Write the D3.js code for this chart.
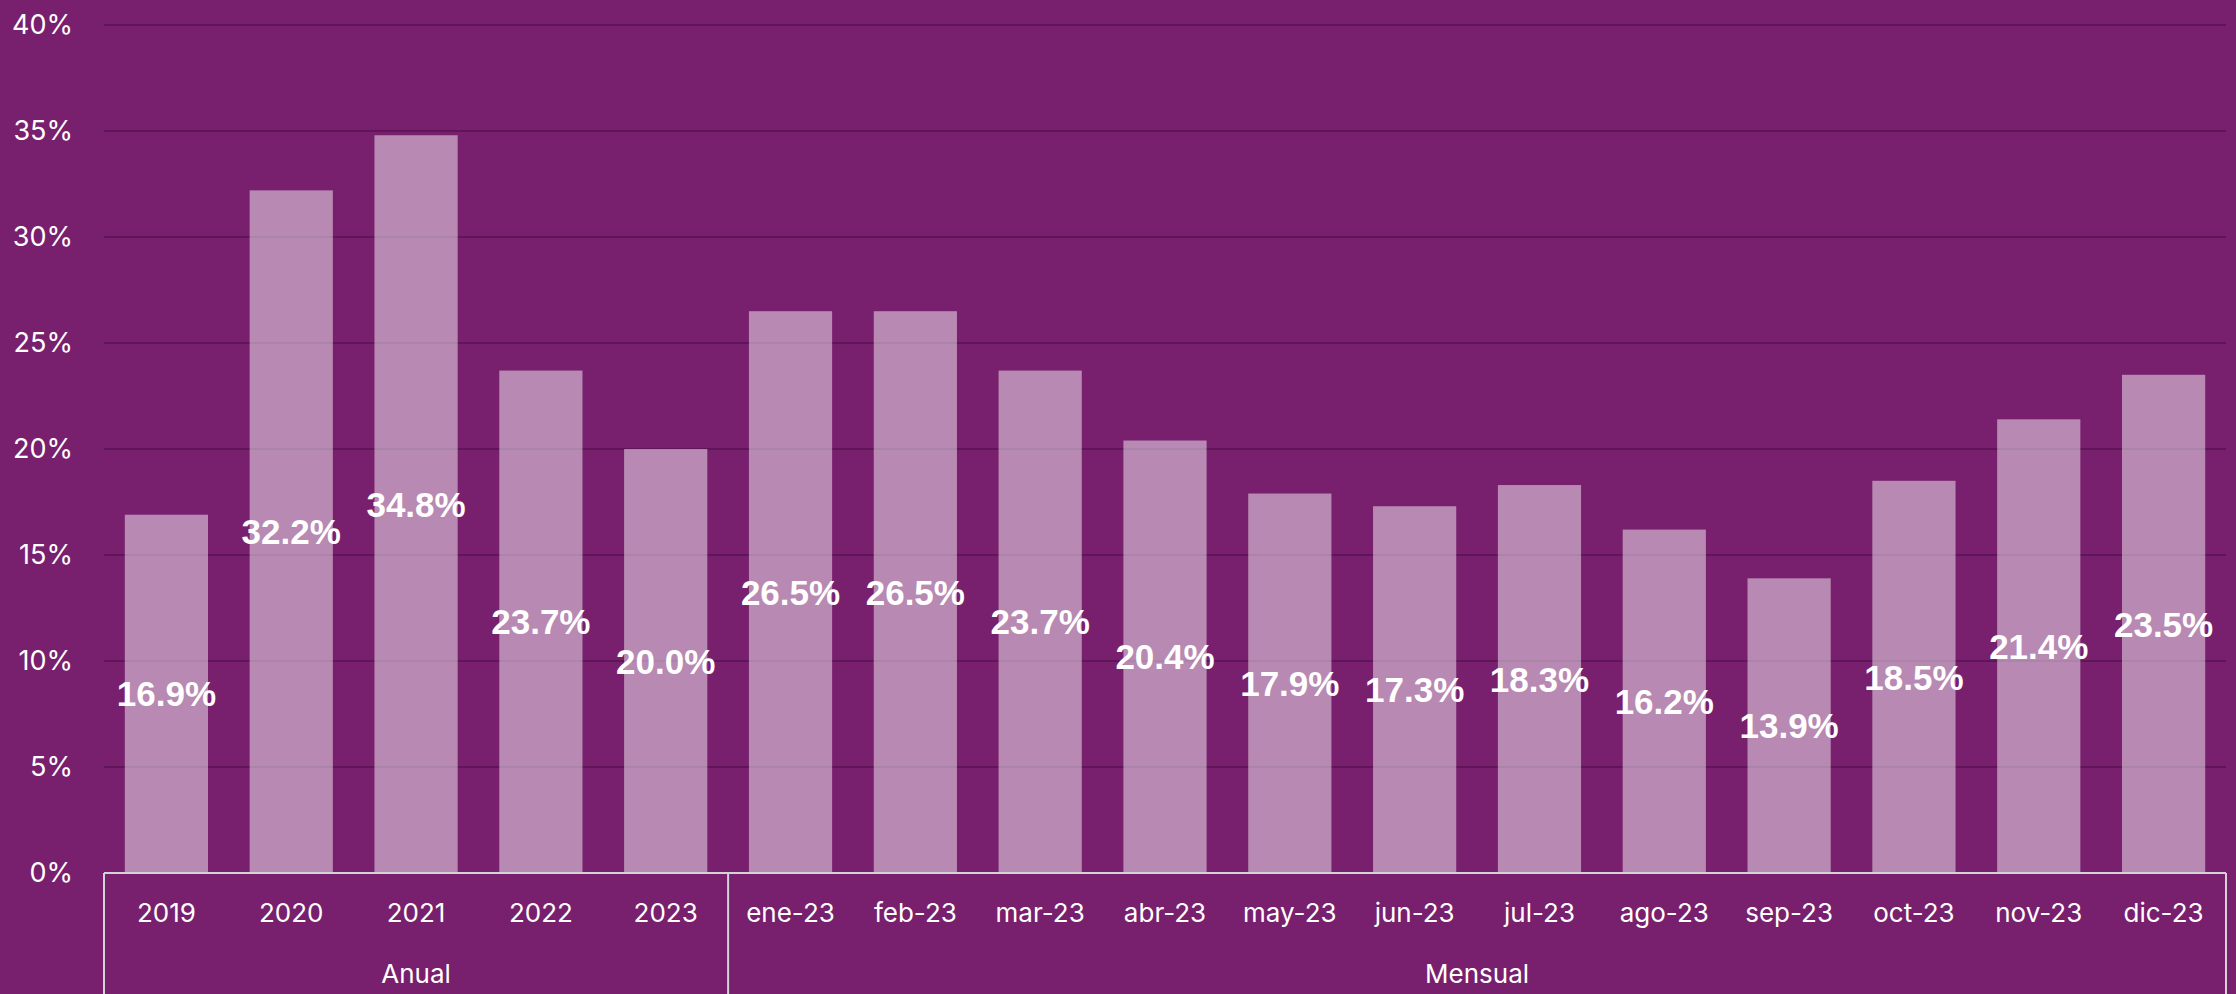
<!DOCTYPE html>
<html>
<head>
<meta charset="utf-8">
<script src="https://cdn.jsdelivr.net/npm/d3@7"></script>
<style>
  html, body { margin: 0; padding: 0; background: #781f6d; }
  svg { display: block; }
</style>
</head>
<body>
<script>
// categories, grouped as in the source (Anual / Mensual)
var categories = ["2019", "2020", "2021", "2022", "2023",
  "ene-23", "feb-23", "mar-23", "abr-23", "may-23", "jun-23",
  "jul-23", "ago-23", "sep-23", "oct-23", "nov-23", "dic-23"];
var groupOf = ["Anual", "Anual", "Anual", "Anual", "Anual",
  "Mensual", "Mensual", "Mensual", "Mensual", "Mensual", "Mensual",
  "Mensual", "Mensual", "Mensual", "Mensual", "Mensual", "Mensual"];
var values = [16.9, 32.2, 34.8, 23.7, 20.0,
  26.5, 26.5, 23.7, 20.4, 17.9, 17.3, 18.3, 16.2, 13.9, 18.5, 21.4, 23.5];
var yTicks = [0, 5, 10, 15, 20, 25, 30, 35, 40];

// plot area (note: "top" is a reserved window prop, so use a margin object)
var W = 2236, H = 994;
var plot = {left: 104, right: 2226, top: 25, bottom: 873};

var svg = d3.select("body").append("svg")
    .attr("width", W)
    .attr("height", H);

svg.append("rect")
    .attr("width", W).attr("height", H)
    .attr("fill", "#781f6d");

var x = d3.scaleBand()
    .domain(categories)
    .range([plot.left, plot.right])
    .paddingInner(1 / 3)
    .paddingOuter(1 / 6);

var y = d3.scaleLinear()
    .domain([0, 40])
    .range([plot.bottom, plot.top]);

// gridlines
svg.append("g")
  .selectAll("line")
  .data(yTicks.slice(1))
  .enter().append("line")
    .attr("x1", plot.left).attr("x2", plot.right)
    .attr("y1", function(d) { return y(d); })
    .attr("y2", function(d) { return y(d); })
    .attr("stroke", "#5f1658")
    .attr("stroke-width", 2);

// y axis labels
svg.append("g")
  .selectAll("text")
  .data(yTicks)
  .enter().append("text")
    .attr("x", 73)
    .attr("y", function(d) { return y(d); })
    .attr("dy", "0.33em")
    .attr("text-anchor", "end")
    .attr("fill", "#ffffff")
    .style("font-family", "Inter, 'Liberation Sans', sans-serif")
    .style("font-size", "27px")
    .text(function(d) { return d + "%"; });

// bars (semi transparent so gridlines show through)
svg.append("g")
  .selectAll("rect")
  .data(values)
  .enter().append("rect")
    .attr("x", function(d, i) { return x(categories[i]); })
    .attr("width", x.bandwidth())
    .attr("y", function(d) { return y(d); })
    .attr("height", function(d) { return y(0) - y(d); })
    .attr("fill", "#ffffff")
    .attr("fill-opacity", 0.475);

// data labels, centred inside each bar
svg.append("g")
  .selectAll("text")
  .data(values)
  .enter().append("text")
    .attr("x", function(d, i) { return x(categories[i]) + x.bandwidth() / 2; })
    .attr("y", function(d) { return (y(d) + y(0)) / 2; })
    .attr("dy", "0.36em")
    .attr("text-anchor", "middle")
    .attr("fill", "#ffffff")
    .style("font-family", "'Liberation Sans', Arial, sans-serif")
    .style("font-weight", "bold")
    .style("font-size", "35px")
    .text(function(d) { return d.toFixed(1) + "%"; });

// category axis
var axisColor = "#d4d4d4";
svg.append("line")
    .attr("x1", plot.left).attr("x2", plot.right)
    .attr("y1", plot.bottom).attr("y2", plot.bottom)
    .attr("stroke", axisColor)
    .attr("stroke-width", 2);

svg.append("g")
  .selectAll("text")
  .data(categories)
  .enter().append("text")
    .attr("x", function(d) { return x(d) + x.bandwidth() / 2; })
    .attr("y", 913)
    .attr("dy", "0.35em")
    .attr("text-anchor", "middle")
    .attr("fill", "#ffffff")
    .style("font-family", "Inter, 'Liberation Sans', sans-serif")
    .style("font-size", "26px")
    .text(function(d) { return d; });

// group spans
var groups = [];
groupOf.forEach(function(g, i) {
  var last = groups[groups.length - 1];
  if (!last || last.name != g) groups.push({name: g, first: i, last: i});
  else last.last = i;
});
var step = x.step();
groups.forEach(function(g) {
  g.x0 = plot.left + g.first * step;
  g.x1 = plot.left + (g.last + 1) * step;
});

var seps = [plot.left].concat(groups.map(function(g) { return g.x1; }));
svg.append("g")
  .selectAll("line")
  .data(seps)
  .enter().append("line")
    .attr("x1", function(d) { return d; })
    .attr("x2", function(d) { return d; })
    .attr("y1", plot.bottom).attr("y2", H)
    .attr("stroke", axisColor)
    .attr("stroke-width", 2);

svg.append("g")
  .selectAll("text")
  .data(groups)
  .enter().append("text")
    .attr("x", function(d) { return (d.x0 + d.x1) / 2; })
    .attr("y", 974)
    .attr("dy", "0.35em")
    .attr("text-anchor", "middle")
    .attr("fill", "#ffffff")
    .style("font-family", "Inter, 'Liberation Sans', sans-serif")
    .style("font-size", "26px")
    .text(function(d) { return d.name; });
</script>
</body>
</html>
